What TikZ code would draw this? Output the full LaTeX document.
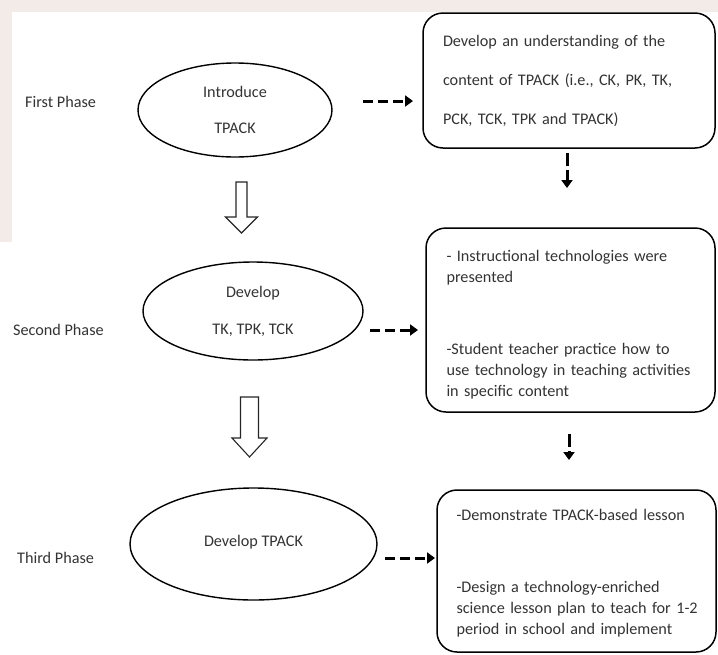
\documentclass[tikz,border=0pt]{standalone}
\usepackage{fontspec}
\setmainfont{Carlito}
\usetikzlibrary{arrows.meta,shapes.geometric}
\definecolor{ink}{HTML}{333333}
\definecolor{wash}{RGB}{243,235,231}
\newcommand\boxline[1]{\mbox{#1}}
\begin{document}
\begin{tikzpicture}[x=1pt,y=-1pt,
  phase/.style={anchor=west,text=ink,font=\fontsize{16.2}{20}\selectfont,inner sep=0pt},
  stage/.style={ellipse,draw=black,line width=1.4pt,text=ink,align=center,inner sep=0pt},
  task/.style={draw=black,line width=1.5pt,rounded corners=20pt,text=ink,align=left,inner ysep=0pt},
  flowarrow/.style={line width=3pt,dash pattern=on 10pt off 5pt,-{Triangle[length=8pt,width=11pt]}},
  downarrow/.style={line width=3pt,dash pattern=on 13pt off 4pt,-{Triangle[length=8pt,width=11pt]}},
  hollow/.style={draw=black!85,line width=1.1pt,fill=white,line join=miter}]
\useasboundingbox (0,0) rectangle (718,654);
% faint page wash along the top and left edges
\fill[wash] (0,0) rectangle (718,12);
\fill[wash] (0,12) rectangle (12,242);

% phase labels
\node[phase] (p1) at (25,102) {First Phase};
\node[phase] (p2) at (13,330) {Second Phase};
\node[phase] (p3) at (17,558) {Third Phase};

% stages
\node[stage,minimum width=194pt,minimum height=94pt,font=\fontsize{16.2}{36}\selectfont] (e1) at (235,110) {Introduce\\TPACK};
\node[stage,minimum width=220pt,minimum height=98pt,font=\fontsize{16.2}{37}\selectfont] (e2) at (253,311) {Develop\\TK, TPK, TCK};
\node[stage,minimum width=247pt,minimum height=112pt,font=\fontsize{16.2}{20}\selectfont] (e3) at (253.5,544) {\raisebox{7pt}{Develop TPACK}};

% activities (a zero-width rule on the first line lowers the text block)
\node[task,text width=252pt,inner xsep=20pt,minimum height=135pt,font=\fontsize{16.2}{39}\selectfont] (b1) at (569,80.5)
  {\boxline{Develop an understanding of the}\\\boxline{content of TPACK (i.e., CK, PK, TK,}\\\boxline{PCK, TCK, TPK and TPACK)}};
\node[task,text width=248pt,inner xsep=20.5pt,minimum height=184pt,font=\fontsize{16.2}{21}\selectfont] (b2) at (570.5,320)
  {\rule{0pt}{21.5pt}\boxline{- Instructional technologies were}\\\boxline{presented}\\[51pt]\boxline{-Student teacher practice how to}\\\boxline{use technology in teaching activities}\\\boxline{in specific content}};
\node[task,text width=240pt,inner xsep=19.5pt,minimum height=162pt,font=\fontsize{16.2}{21}\selectfont] (b3) at (576.5,571)
  {\rule{0pt}{16pt}\boxline{-Demonstrate TPACK-based lesson}\\[51pt]\boxline{-Design a technology-enriched}\\\boxline{science lesson plan to teach for 1-2}\\\boxline{period in school and implement}};

% dashed connectors
\coordinate (f1a) at (363,101); \coordinate (f1b) at (413,101);
\coordinate (f2a) at (370,330); \coordinate (f2b) at (418,330);
\coordinate (f3a) at (385,558); \coordinate (f3b) at (435,558);
\draw[flowarrow] (f1a) -- (f1b);
\draw[flowarrow] (f2a) -- (f2b);
\draw[flowarrow] (f3a) -- (f3b);

\coordinate (d1a) at (567,153); \coordinate (d1b) at (567,188);
\coordinate (d2a) at (569,434); \coordinate (d2b) at (569,460);
\draw[downarrow] (d1a) -- (d1b);
\draw[downarrow] (d2a) -- (d2b);

% hollow block arrows between stages
\draw[hollow] (236,182) -- (247,182) -- (247,217) -- (257.5,217) -- (241.5,233) -- (225.5,217) -- (236,217) -- cycle;
\draw[hollow] (240.5,397) -- (258.5,397) -- (258.5,438) -- (267,438) -- (249.5,457) -- (232,438) -- (240.5,438) -- cycle;
\end{tikzpicture}
\end{document}
